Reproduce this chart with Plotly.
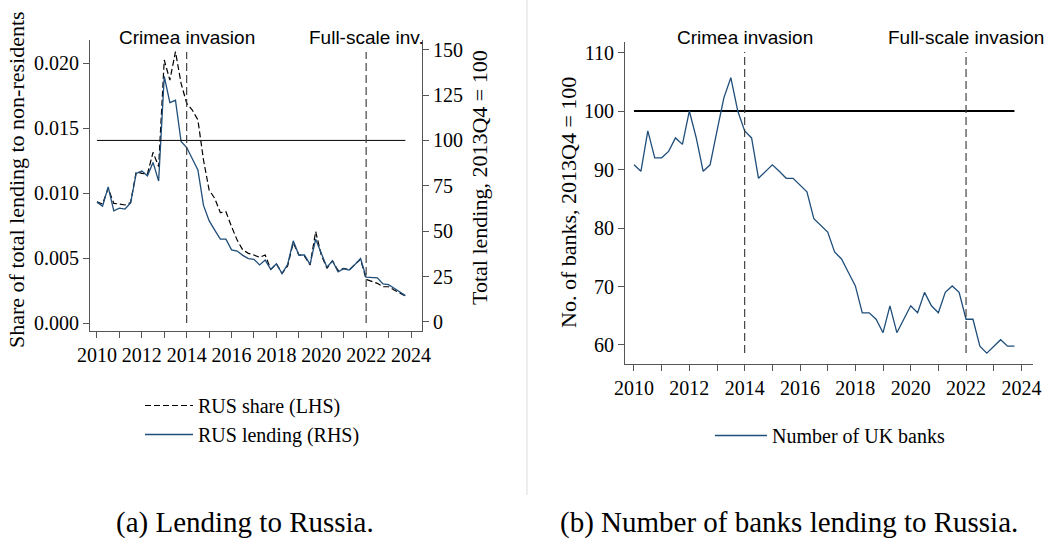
import plotly.graph_objects as go

# ---------------- data ----------------
quarters = [y + q / 4 for y in range(2010, 2024) for q in range(4)]

rus_share = [0.00933, 0.00915, 0.01036, 0.00920, 0.00915, 0.00908, 0.00926, 0.01164,
             0.01151, 0.01146, 0.01313, 0.01203, 0.02023, 0.01869, 0.02087, 0.01844,
             0.01690, 0.01638, 0.01562, 0.01254, 0.01023, 0.00959, 0.00849, 0.00856,
             0.00741, 0.00638, 0.00562, 0.00536, 0.00523, 0.00505, 0.00523, 0.00413,
             0.00454, 0.00382, 0.00438, 0.00618, 0.00523, 0.00515, 0.00446, 0.00703,
             0.00523, 0.00421, 0.00479, 0.00403, 0.00421, 0.00408, 0.00451, 0.00490,
             0.00336, 0.00318, 0.00305, 0.00279, 0.00279, 0.00254, 0.00228, 0.00208]

rus_lending = [66.0, 63.8, 74.4, 61.2, 62.7, 62.2, 65.5, 81.8,
               83.1, 80.5, 87.9, 77.6, 135.3, 120.8, 122.1, 99.4,
               96.1, 90.2, 83.7, 64.2, 55.8, 50.6, 45.6, 45.6,
               39.7, 39.1, 36.7, 34.9, 34.5, 31.4, 34.1, 28.9,
               32.1, 26.7, 31.7, 44.7, 36.9, 36.9, 31.7, 45.6,
               38.2, 30.2, 33.6, 27.6, 29.3, 28.6, 31.7, 34.9,
               24.7, 24.7, 24.3, 21.0, 20.6, 18.6, 16.3, 14.5]

uk_banks = [90.8, 89.7, 96.6, 92.0, 92.0, 93.1, 95.4, 94.3,
            100.0, 95.4, 89.7, 90.8, 96.6, 102.3, 105.7, 100.0,
            96.6, 95.4, 88.5, 89.7, 90.8, 89.7, 88.5, 88.5,
            87.4, 86.2, 81.6, 80.5, 79.3, 75.9, 74.7, 72.4,
            70.1, 65.5, 65.5, 64.4, 62.1, 66.7, 62.1, 64.4,
            66.7, 65.5, 69.0, 66.7, 65.5, 69.0, 70.1, 69.0,
            64.4, 64.4, 59.8, 58.6, 59.8, 60.9, 59.8, 59.8]

ref_level = 100
event_years = [2014, 2022]
left_event_labels = ["Crimea invasion", "Full-scale inv."]
right_event_labels = ["Crimea invasion", "Full-scale invasion"]

year_ticks = list(range(2010, 2025))
year_ticktext = [str(y) if y % 2 == 0 else "" for y in year_ticks]
lhs_ticks = [0.0, 0.005, 0.010, 0.015, 0.020]
lhs_ticktext = ["0.000", "0.005", "0.010", "0.015", "0.020"]
rhs_ticks = [0, 25, 50, 75, 100, 125, 150]
banks_ticks = [60, 70, 80, 90, 100, 110]

# ---------------- style ----------------
W, H = 1051, 540
SERIF = "Liberation Serif"
SANS = "Liberation Sans"
BLUE = "#1f4e7a"
AXC = "#555555"
TICKFONT = dict(family=SERIF, size=20, color="black")


def px_x(p):
    return p / W


def px_y(p):
    return 1 - p / H


fig = go.Figure()

# left panel
fig.add_trace(go.Scatter(x=quarters, y=rus_share, mode="lines", name="RUS share (LHS)",
                         line=dict(color="black", width=1.2, dash="6px,3px"),
                         xaxis="x", yaxis="y", legend="legend"))
fig.add_trace(go.Scatter(x=quarters, y=rus_lending, mode="lines", name="RUS lending (RHS)",
                         line=dict(color=BLUE, width=1.3),
                         xaxis="x", yaxis="y2", legend="legend"))
fig.add_trace(go.Scatter(x=[quarters[0], quarters[-1]], y=[ref_level, ref_level], mode="lines",
                         line=dict(color="black", width=1), showlegend=False,
                         xaxis="x", yaxis="y2", hoverinfo="skip"))

# right panel
fig.add_trace(go.Scatter(x=[quarters[0], quarters[-1]], y=[ref_level, ref_level], mode="lines",
                         line=dict(color="black", width=2.2), showlegend=False,
                         xaxis="x2", yaxis="y3", hoverinfo="skip"))
fig.add_trace(go.Scatter(x=quarters, y=uk_banks, mode="lines", name="Number of UK banks",
                         line=dict(color=BLUE, width=1.3),
                         xaxis="x2", yaxis="y3", legend="legend2"))

axis_common = dict(showline=True, linecolor=AXC, linewidth=1.2, ticks="outside", ticklen=6,
                   tickcolor=AXC, tickwidth=1.2, showgrid=False, zeroline=False,
                   tickfont=TICKFONT, automargin=False)

shapes = []
for yr in event_years:
    shapes.append(dict(type="line", xref="x", yref="y domain", x0=yr, x1=yr,
                       y0=0.0275, y1=0.959, line=dict(color="#333333", width=1.1, dash="8px,4px")))
    shapes.append(dict(type="line", xref="x2", yref="y3 domain", x0=yr, x1=yr,
                       y0=0.034, y1=0.969, line=dict(color="#333333", width=1.1, dash="8px,4px")))
# faint separator between panels
shapes.append(dict(type="line", xref="paper", yref="paper", x0=px_x(527), x1=px_x(527),
                   y0=px_y(495), y1=1, line=dict(color="#eeeeee", width=2)))

annotations = []
for yr, lab in zip(event_years, left_event_labels):
    annotations.append(dict(x=yr, y=px_y(37), xref="x", yref="paper", text=lab, showarrow=False,
                            xanchor="center", yanchor="middle",
                            font=dict(family=SANS, size=19, color="black")))
for yr, lab in zip(event_years, right_event_labels):
    annotations.append(dict(x=yr, y=px_y(37), xref="x2", yref="paper", text=lab, showarrow=False,
                            xanchor="center", yanchor="middle",
                            font=dict(family=SANS, size=19, color="black")))

# axis titles
annotations += [
    dict(x=px_x(17), y=px_y(180), xref="paper", yref="paper", textangle=-90, showarrow=False,
         text="Share of total lending to non-residents", xanchor="center", yanchor="middle",
         font=dict(family=SERIF, size=22, color="black")),
    dict(x=px_x(479), y=px_y(178), xref="paper", yref="paper", textangle=-90, showarrow=False,
         text="Total lending, 2013Q4 = 100", xanchor="center", yanchor="middle",
         font=dict(family=SERIF, size=22, color="black")),
    dict(x=px_x(568), y=px_y(203), xref="paper", yref="paper", textangle=-90, showarrow=False,
         text="No. of banks, 2013Q4 = 100", xanchor="center", yanchor="middle",
         font=dict(family=SERIF, size=22, color="black")),
    dict(x=px_x(245), y=px_y(522), xref="paper", yref="paper", showarrow=False,
         text="(a) Lending to Russia.", xanchor="center", yanchor="middle",
         font=dict(family=SERIF, size=29, color="black")),
    dict(x=px_x(789), y=px_y(522), xref="paper", yref="paper", showarrow=False,
         text="(b) Number of banks lending to Russia.", xanchor="center", yanchor="middle",
         font=dict(family=SERIF, size=29, color="black")),
]

fig.update_layout(
    width=W, height=H,
    margin=dict(l=0, r=0, t=0, b=0, autoexpand=False),
    paper_bgcolor="white", plot_bgcolor="white",
    showlegend=True,
    xaxis=dict(domain=[px_x(90), px_x(422)], range=[2009.69, 2024.49], anchor="y",
               tickmode="array", tickvals=year_ticks, ticktext=year_ticktext, **axis_common),
    yaxis=dict(domain=[px_y(331), px_y(40)], range=[-0.000615, 0.02177], anchor="x",
               tickmode="array", tickvals=lhs_ticks, ticktext=lhs_ticktext, **axis_common),
    yaxis2=dict(overlaying="y", side="right", anchor="x", range=[-4.96, 155.3],
                tickmode="array", tickvals=rhs_ticks, **axis_common),
    xaxis2=dict(domain=[px_x(625), px_x(1033)], range=[2009.675, 2024.42], anchor="y3",
                tickmode="array", tickvals=year_ticks, ticktext=year_ticktext, **axis_common),
    yaxis3=dict(domain=[px_y(364), px_y(42)], range=[56.75, 111.8], anchor="x2",
                tickmode="array", tickvals=banks_ticks, **axis_common),
    legend=dict(x=px_x(140), y=px_y(386), xanchor="left", yanchor="top",
                bgcolor="rgba(0,0,0,0)", font=dict(family=SERIF, size=20, color="black"),
                itemwidth=48),
    legend2=dict(x=px_x(710), y=px_y(416), xanchor="left", yanchor="top",
                 bgcolor="rgba(0,0,0,0)", font=dict(family=SERIF, size=20, color="black"),
                 itemwidth=52),
    shapes=shapes,
    annotations=annotations,
)

fig.write_html("out.html")
